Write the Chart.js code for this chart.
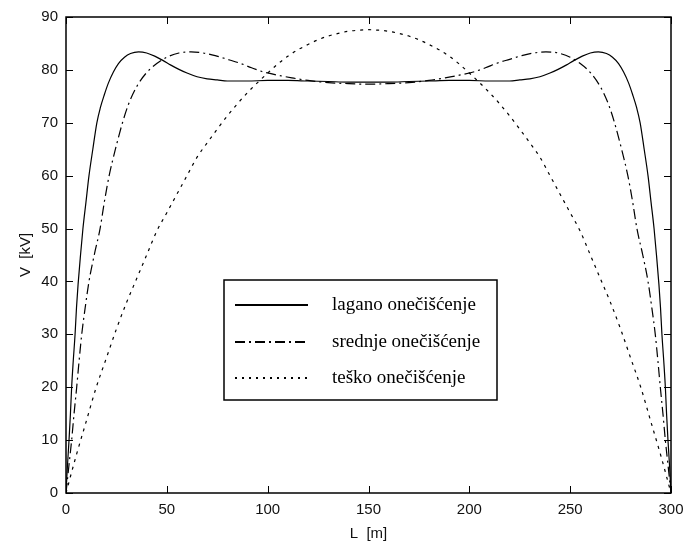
<!DOCTYPE html>
<html>
<head>
<meta charset="utf-8">
<script src="https://cdn.jsdelivr.net/npm/chart.js@4.4.1/dist/chart.umd.min.js"></script>
<style>
  body { margin: 0; background: #fff; }
  #wrap { width: 688px; height: 544px; position: relative; }
</style>
</head>
<body>
<div id="wrap"><canvas id="chart"></canvas></div>
<script>
// lagano onečišćenje (solid)
const laganoL = [0, 0.7, 1.5, 2.2, 2.8, 3.6, 4.5, 5.2, 6, 7.2, 8.4, 9.9, 11.4, 13.3, 15.3, 17, 19, 21, 23.5, 26,
  29, 32, 36, 40, 44, 48, 52, 56, 60, 65, 70, 75, 80, 90, 100, 110, 120, 130, 140, 150,
  160, 170, 180, 190, 200, 210, 220, 225, 230, 235, 240, 244, 248, 252, 256, 260, 264, 268, 271, 274,
  276.5, 279, 281, 283, 284.7, 286.7, 288.6, 290.1, 291.6, 292.8, 294, 294.8, 295.5, 296.4, 297.2, 297.8, 298.5, 299.3, 300];
const laganoV = [0, 5, 10, 15, 20, 25, 30, 35, 39.5, 45, 50, 55, 60, 65, 70, 72.8, 75.3, 77.5, 79.6, 81.2,
  82.4, 83.1, 83.4, 83.2, 82.6, 81.8, 80.9, 80.1, 79.4, 78.7, 78.3, 78.1, 77.9, 77.9, 78, 78, 77.9, 77.8, 77.7, 77.7,
  77.7, 77.8, 77.9, 78, 78, 77.9, 77.9, 78.1, 78.3, 78.7, 79.4, 80.1, 80.9, 81.8, 82.6, 83.2, 83.4, 83.1, 82.4, 81.2,
  79.6, 77.5, 75.3, 72.8, 70, 65, 60, 55, 50, 45, 39.5, 35, 30, 25, 20, 15, 10, 5, 0];

// srednje onečišćenje (dash-dot)
const srednjeL = [0, 1.4, 2.8, 4, 5.3, 6.5, 7.8, 9.5, 11.4, 14, 16.9, 19, 21.4, 24.5, 28, 31, 35, 40, 45, 50,
  56, 62, 68, 74, 80, 86, 92, 98, 105, 112, 120, 130, 140, 150,
  160, 170, 180, 188, 195, 202, 208, 214, 220, 226, 232, 238, 244, 250, 255, 260, 265, 269, 272, 275.5,
  278.6, 281, 283.1, 286, 288.6, 290.5, 292.2, 293.5, 294.7, 296, 297.2, 298.6, 300];
const srednjeV = [0, 5, 10, 15, 20, 25, 30, 35, 40, 45, 50, 55, 60, 65, 70, 73.5, 76.8, 79.5, 81.2, 82.4,
  83.2, 83.4, 83.2, 82.7, 82, 81.3, 80.4, 79.6, 79, 78.5, 78, 77.6, 77.4, 77.3,
  77.4, 77.6, 78, 78.5, 79, 79.6, 80.4, 81.3, 82, 82.7, 83.2, 83.4, 83.2, 82.4, 81.2, 79.5, 76.8, 73.5, 70, 65,
  60, 55, 50, 45, 40, 35, 30, 25, 20, 15, 10, 5, 0];

// teško onečišćenje (dotted)
const teskoL = [0, 5, 10, 15, 20, 25, 30, 35, 40, 45, 50, 55, 60, 65, 70, 75, 80, 85, 90, 95,
  100, 105, 110, 115, 120, 125, 130, 135, 140, 145, 150, 155, 160, 165, 170, 175, 180, 185, 190, 195,
  200, 205, 210, 215, 220, 225, 230, 235, 240, 245, 250, 255, 260, 265, 270, 275, 280, 285, 290, 295, 300];
const teskoV = [0, 7, 13.5, 20, 25.5, 31, 36, 40.5, 45, 49.5, 53, 56.5, 60, 63.5, 66.2, 68.8, 71.3, 73.6, 75.7, 77.6,
  79.4, 81.1, 82.6, 83.8, 84.8, 85.7, 86.4, 86.9, 87.3, 87.5, 87.6, 87.5, 87.3, 86.9, 86.4, 85.7, 84.8, 83.8, 82.6, 81.1,
  79.4, 77.6, 75.7, 73.6, 71.3, 68.8, 66.2, 63.5, 60, 56.5, 53, 49.5, 45, 40.5, 36, 31, 25.5, 20, 13.5, 7, 0];

const xTicks = [0, 50, 100, 150, 200, 250, 300];
const yTicks = [0, 10, 20, 30, 40, 50, 60, 70, 80, 90];
const seriesNames = ['lagano onečišćenje', 'srednje onečišćenje', 'teško onečišćenje'];

const toPoints = (xs, ys) => xs.map((x, i) => ({ x: x, y: ys[i] }));

const dashes = [[], [10, 4, 2, 4], [2, 5]];

// box round the plot with inward ticks, plus the boxed legend inside the plot
const framePlugin = {
  id: 'frame',
  afterDraw(chart) {
    const { ctx, chartArea: a, scales: { x, y } } = chart;
    ctx.save();
    ctx.strokeStyle = '#000';
    ctx.lineWidth = 1.5;
    ctx.strokeRect(a.left, a.top, a.right - a.left, a.bottom - a.top);

    ctx.lineWidth = 1;
    ctx.beginPath();
    xTicks.forEach(v => {
      const px = Math.round(x.getPixelForValue(v)) + 0.5;
      ctx.moveTo(px, a.bottom); ctx.lineTo(px, a.bottom - 7);
      ctx.moveTo(px, a.top); ctx.lineTo(px, a.top + 7);
    });
    yTicks.forEach(v => {
      const py = Math.round(y.getPixelForValue(v)) + 0.5;
      ctx.moveTo(a.left, py); ctx.lineTo(a.left + 7, py);
      ctx.moveTo(a.right, py); ctx.lineTo(a.right - 7, py);
    });
    ctx.stroke();

    // legend
    const bx = 224, by = 280, bw = 273, bh = 120;
    ctx.fillStyle = '#fff';
    ctx.fillRect(bx, by, bw, bh);
    ctx.lineWidth = 1.5;
    ctx.strokeRect(bx, by, bw, bh);
    const rows = [305, 342, 378];
    ctx.font = '19px "Liberation Serif", serif';
    ctx.textBaseline = 'middle';
    ctx.fillStyle = '#000';
    chart.data.datasets.forEach((ds, i) => {
      ctx.beginPath();
      ctx.lineWidth = 2;
      ctx.setLineDash(dashes[i]);
      ctx.moveTo(235, rows[i]);
      ctx.lineTo(308, rows[i]);
      ctx.stroke();
      ctx.setLineDash([]);
      ctx.fillText(ds.label, 332, rows[i]);
    });
    ctx.restore();
  }
};

const tickFont = { family: '"Liberation Sans", Arial, sans-serif', size: 15 };

new Chart(document.getElementById('chart'), {
  type: 'scatter',
  data: {
    datasets: [
      { label: seriesNames[0], data: toPoints(laganoL, laganoV), borderDash: dashes[0] },
      { label: seriesNames[1], data: toPoints(srednjeL, srednjeV), borderDash: dashes[1] },
      { label: seriesNames[2], data: toPoints(teskoL, teskoV), borderDash: [3, 5] }
    ].map(ds => Object.assign(ds, {
      showLine: true,
      borderColor: '#000',
      borderWidth: 1.2,
      pointRadius: 0,
      cubicInterpolationMode: 'monotone',
      fill: false
    }))
  },
  options: {
    responsive: true,
    maintainAspectRatio: false,
    animation: false,
    layout: { padding: { left: 0, right: 17, top: 17, bottom: 0 } },
    plugins: { legend: { display: false }, tooltip: { enabled: false } },
    scales: {
      x: {
        type: 'linear',
        min: 0, max: 300,
        afterBuildTicks: s => { s.ticks = xTicks.map(v => ({ value: v })); },
        afterFit: s => { s.height = 51; s.paddingLeft = 0; s.paddingRight = 0; },
        grid: { display: false, drawTicks: false },
        border: { display: false },
        ticks: { font: tickFont, color: '#111', padding: 8, maxRotation: 0 },
        title: { display: true, text: 'L  [m]', font: tickFont, color: '#111', padding: { top: 0, bottom: 1 } }
      },
      y: {
        type: 'linear',
        min: 0, max: 90,
        afterBuildTicks: s => { s.ticks = yTicks.map(v => ({ value: v })); },
        afterFit: s => { s.width = 66; s.paddingTop = 0; s.paddingBottom = 0; },
        grid: { display: false, drawTicks: false },
        border: { display: false },
        ticks: { font: tickFont, color: '#111', padding: 8 },
        title: { display: true, text: 'V  [kV]', font: tickFont, color: '#111', padding: { top: 17, bottom: 0 } }
      }
    }
  },
  plugins: [framePlugin]
});
</script>
</body>
</html>
